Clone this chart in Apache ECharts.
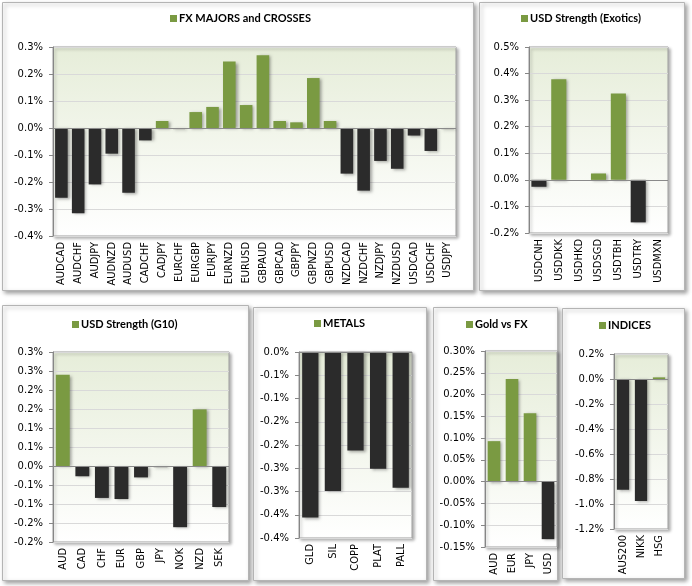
<!DOCTYPE html>
<html><head><meta charset="utf-8">
<script src="https://cdn.jsdelivr.net/npm/echarts@6/dist/echarts.min.js"></script>
<style>html,body{margin:0;padding:0;background:#fff}#c{width:692px;height:586px}</style>
</head><body><div id="c"></div>
<script>
// ---- data (percent) ----
const fxCats = ['AUDCAD','AUDCHF','AUDJPY','AUDNZD','AUDUSD','CADCHF','CADJPY','EURCHF','EURGBP','EURJPY','EURNZD','EURUSD','GBPAUD','GBPCAD','GBPJPY','GBPNZD','GBPUSD','NZDCAD','NZDCHF','NZDJPY','NZDUSD','USDCAD','USDCHF','USDJPY'];
const fxVals = [-0.258,-0.316,-0.209,-0.095,-0.240,-0.046,0.026,-0.004,0.059,0.078,0.246,0.085,0.269,0.026,0.021,0.185,0.026,-0.169,-0.232,-0.122,-0.151,-0.028,-0.085,-0.004];
const exoCats = ['USDCNH','USDDKK','USDHKD','USDSGD','USDTBH','USDTRY','USDMXN'];
const exoVals = [-0.026,0.379,0,0.024,0.325,-0.160,0];
const g10Cats = ['AUD','CAD','CHF','EUR','GBP','JPY','NOK','NZD','SEK'];
const g10Vals = [0.240,-0.027,-0.084,-0.087,-0.030,-0.003,-0.161,0.149,-0.108];
const metCats = ['GLD','SIL','COPP','PLAT','PALL'];
const metVals = [-0.356,-0.299,-0.212,-0.251,-0.292];
const goldCats = ['AUD','EUR','JPY','USD'];
const goldVals = [0.093,0.236,0.157,-0.132];
const idxCats = ['AUS200','NIKK','HSG'];
const idxVals = [-0.886,-0.976,0.013];
const titles = ['FX MAJORS and CROSSES','USD Strength (Exotics)','USD Strength (G10)','METALS','Gold vs FX','INDICES'];

const GREEN = '#7a9a42', DARK = '#2b2b2b';
const LABEL_FONT = 'DejaVu Sans';
const CAT_FONT = '"Liberation Sans Narrow","DejaVu Sans Condensed",sans-serif';
const TITLE_FONT = 'Lato';

// layout: box [x,y,w,h], grid [l,t,w,h], legend [x,y], axis [min,max,interval,decimals], barWidth
const panels = [
  {cats: fxCats, vals: fxVals, box:[2,2,471,288], grid:[53,47,403,189], lg:[170,13], ax:[-0.4,0.3,0.1,1], bw:'75%'},
  {cats: exoCats, vals: exoVals, box:[479,2,205,288], grid:[529,47,139,186], lg:[521,13], ax:[-0.2,0.5,0.1,1], bw:'76%'},
  {cats: g10Cats, vals: g10Vals, box:[2,305,246,275], grid:[53,352,176,190], lg:[72,319], ax:[-0.2,0.3,0.05,1], bw:'71%'},
  {cats: metCats, vals: metVals, box:[253,307,173,273], grid:[299,352,113,186], lg:[314,318], ax:[-0.4,0,0.05,1], bw:'72%'},
  {cats: goldCats, vals: goldVals, box:[433,307,124,273], grid:[485,351,72,196], lg:[466,319], ax:[-0.15,0.3,0.05,2], bw:'70%'},
  {cats: idxCats, vals: idxVals, box:[562,308,122,270], grid:[614,354,54,175], lg:[599,320], ax:[-1.2,0.2,0.2,1], bw:'68%'}
];

function fmt(d){
  return function(v){
    const p = Math.pow(10,d);
    const r = Math.round(Math.abs(v)*p + 1e-7)/p;
    return (v<0 && r!==0 ? '-' : '') + r.toFixed(d) + '%';
  };
}

const option = {
  backgroundColor:'#fff',
  animation:false,
  graphic: panels.map(p => ({
    type:'rect', z:-10, silent:true,
    shape:{x:p.box[0]+0.5, y:p.box[1]+0.5, width:p.box[2], height:p.box[3]},
    style:{fill:'#fff', stroke:'#b4b4b4', lineWidth:1, shadowColor:'rgba(0,0,0,0.35)', shadowBlur:4, shadowOffsetX:2, shadowOffsetY:2}
  })),
  legend: panels.map((p,i) => ({
    data:[titles[i]], left:p.lg[0], top:p.lg[1], padding:0, itemGap:0,
    icon:'rect', itemWidth:7, itemHeight:7, selectedMode:false,
    itemStyle:{shadowBlur:0, shadowOffsetX:0, shadowOffsetY:0},
    textStyle:{fontFamily:TITLE_FONT, fontWeight:'bold', fontSize:11, color:'#000', padding:[0,0,0,-3]}
  })),
  grid: panels.map(p => ({
    left:p.grid[0], top:p.grid[1], width:p.grid[2], height:p.grid[3],
    show:true, borderColor:'#a0a0a0', borderWidth:1,
    backgroundColor:{type:'linear', x:0, y:0, x2:0, y2:1, colorStops:[{offset:0,color:'#e6edd9'},{offset:1,color:'#ffffff'}]},
    shadowColor:'rgba(0,0,0,0.3)', shadowBlur:3, shadowOffsetX:2, shadowOffsetY:2
  })),
  xAxis: panels.map((p,i) => ({
    type:'category', gridIndex:i, data:p.cats, position:'bottom',
    axisLine:{show:false, onZero:false}, axisTick:{show:false},
    axisLabel:{rotate:90, margin:6, interval:0, fontFamily:CAT_FONT, fontSize:11, color:'#000'}
  })),
  yAxis: panels.map((p,i) => ({
    type:'value', gridIndex:i, min:p.ax[0], max:p.ax[1], interval:p.ax[2],
    axisLine:{show:true, lineStyle:{color:'#868686'}},
    axisTick:{show:true, length:4, lineStyle:{color:'#868686'}},
    splitLine:{show:true, lineStyle:{color:'#d9d9d9'}},
    axisLabel:{formatter:fmt(p.ax[3]), margin:10, fontFamily:LABEL_FONT, fontSize:10, color:'#000'}
  })),
  series: panels.map((p,i) => ({
    type:'bar', name:titles[i], xAxisIndex:i, yAxisIndex:i, barWidth:p.bw,
    itemStyle:{color:GREEN, shadowColor:'rgba(0,0,0,0.35)', shadowBlur:3, shadowOffsetX:2, shadowOffsetY:1},
    data:p.vals.map(v => ({value:v, itemStyle:{color: v<0 ? DARK : GREEN}})),
    markLine:{silent:true, symbol:'none', label:{show:false}, lineStyle:{color:'#8a8a8a', width:1, type:'solid'}, data:[{yAxis:0}]}
  }))
};
echarts.init(document.getElementById('c')).setOption(option);
</script>
</body></html>
